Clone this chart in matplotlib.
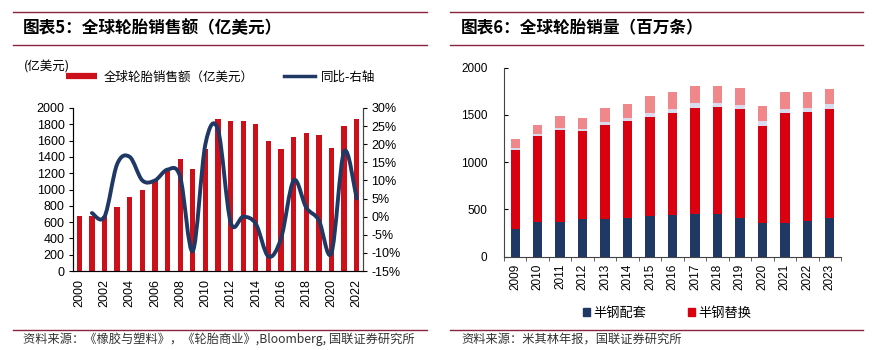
import matplotlib
matplotlib.use('Agg')
import matplotlib.pyplot as plt
from matplotlib.lines import Line2D
from matplotlib.path import Path
from matplotlib.patches import PathPatch, Patch
import numpy as np

plt.rcParams['font.family'] = ['Liberation Sans', 'Noto Sans CJK SC']
CJK = ['Noto Sans CJK SC', 'DejaVu Sans']

# ---- 图表5 数据 ----
years5 = [str(y) for y in range(2000, 2023)]
sales = [670, 680, 680, 780, 910, 1000, 1100, 1240, 1380, 1250, 1500, 1870,
         1840, 1840, 1800, 1600, 1500, 1650, 1690, 1670, 1510, 1780, 1870]
# 同比 (%), 从2001年开始
yoy_years = [str(y) for y in range(2001, 2023)]
yoy = [1, 0, 14.5, 16.5, 10, 10, 13, 11, -9.5, 20, 24, -1.5, 0, -2, -11,
       -6, 10, 2.5, -1, -10, 18, 5]

# ---- 图表6 数据 ----
years6 = [str(y) for y in range(2009, 2024)]
semi_oe = [289, 363, 370, 401, 401, 408, 429, 436, 454, 454, 412, 352, 352, 377, 405]
semi_rep = [838, 911, 968, 926, 989, 1025, 1053, 1085, 1119, 1130, 1151, 1028, 1169, 1151, 1158]
full_oe = [28, 21, 24, 28, 32, 35, 39, 38, 53, 46, 42, 53, 45, 45, 49]
full_rep = [88, 95, 123, 113, 155, 148, 183, 187, 183, 179, 176, 158, 173, 166, 162]

RED = '#CC1019'
NAVY = '#1F3864'
RULE = '#8B2240'

W, H = 874, 350
fig = plt.figure(figsize=(W / 100, H / 100), dpi=100)


def fx(px):
    return px / W


def fy(py):
    return 1 - py / H


def hline(x0, x1, y):
    fig.add_artist(Line2D([fx(x0), fx(x1)], [fy(y), fy(y)], color=RULE, lw=1.0,
                          transform=fig.transFigure))


# 标题、分隔线、资料来源
for x0, x1 in [(13, 427), (450, 863)]:
    hline(x0, x1, 12)
    hline(x0, x1, 45)
    hline(x0, x1, 330)
fig.text(fx(23), fy(28.5), '图表5：全球轮胎销售额（亿美元）', family=CJK, fontsize=12,
         fontweight='heavy', va='center', ha='left')
fig.text(fx(461), fy(28.5), '图表6：全球轮胎销量（百万条）', family=CJK, fontsize=12,
         fontweight='heavy', va='center', ha='left')
fig.text(fx(23), fy(339), '资料来源：《橡胶与塑料》，《轮胎商业》,Bloomberg, 国联证券研究所',
         family=CJK, fontsize=8.8, color='#333333', va='center', ha='left')
fig.text(fx(461), fy(339), '资料来源：米其林年报，国联证券研究所',
         family=CJK, fontsize=8.8, color='#333333', va='center', ha='left')

# ---------------- 左图 ----------------
ax = fig.add_axes([fx(73), fy(271), fx(363) - fx(73), (271 - 108) / H])
x5 = np.arange(len(years5))
ax.bar(x5, sales, width=0.42, color=RED, zorder=2)
ax.set_xlim(-0.5, len(years5) - 0.5)
ax.set_ylim(0, 2000)
ax.set_yticks(range(0, 2001, 200))
ax.set_xticks(x5[::2])
ax.set_xticklabels(years5[::2], rotation=90)
ax.tick_params(axis='x', length=0, pad=6, labelsize=9)
ax.tick_params(axis='y', direction='out', length=3, labelsize=9, pad=3)
ax.spines['top'].set_visible(False)
for s in ['left', 'bottom', 'right']:
    ax.spines[s].set_color('#444444')

ax2 = ax.twinx()
ax2.set_ylim(-15, 30)
ax2.set_yticks(range(-15, 31, 5))
ax2.set_yticklabels([f'{v}%' for v in range(-15, 31, 5)])
ax2.tick_params(axis='y', direction='out', length=3, labelsize=9, pad=3)
ax2.spines['top'].set_visible(False)
ax2.spines['right'].set_color('#444444')

# 平滑曲线 (Catmull-Rom -> 贝塞尔)
px = np.array([years5.index(y) for y in yoy_years], dtype=float)
py = np.array(yoy, dtype=float)
pts = np.column_stack([px, py])
ext = np.vstack([pts[0], pts, pts[-1]])
verts = [tuple(pts[0])]
codes = [Path.MOVETO]
for i in range(1, len(ext) - 2):
    p0, p1, p2, p3 = ext[i - 1], ext[i], ext[i + 1], ext[i + 2]
    c1 = p1 + (p2 - p0) / 6
    c2 = p2 - (p3 - p1) / 6
    verts += [tuple(c1), tuple(c2), tuple(p2)]
    codes += [Path.CURVE4] * 3
ax2.add_patch(PathPatch(Path(verts, codes), fill=False, edgecolor=NAVY, lw=2.8,
                        capstyle='round', joinstyle='round', zorder=3))

fig.text(fx(24), fy(67), '(亿美元)', family=CJK, fontsize=9, va='center', ha='left')
h1 = Line2D([], [], color=RED, lw=4.5, solid_capstyle='butt')
h2 = Line2D([], [], color=NAVY, lw=2.5)
fig.legend([h1, h2], ['全球轮胎销售额（亿美元）', '同比-右轴'], loc='center left',
           bbox_to_anchor=(fx(66), fy(77)), ncol=2, frameon=False, borderpad=0,
           borderaxespad=0, handlelength=2.5, handletextpad=0.5, columnspacing=2.4,
           prop={'family': CJK, 'size': 9})

# ---------------- 右图 ----------------
bx = fig.add_axes([fx(504), fy(256.7), fx(841) - fx(504), (256.7 - 67.7) / H])
x6 = np.arange(len(years6))
bw = 0.42
b1 = np.array(semi_oe)
b2 = b1 + np.array(semi_rep)
b3 = b2 + np.array(full_oe)
bx.bar(x6, semi_oe, width=bw, color=NAVY, zorder=2)
bx.bar(x6, semi_rep, bottom=b1, width=bw, color='#D9000F', zorder=2)
bx.bar(x6, full_oe, bottom=b2, width=bw, color='#D8DCEE', zorder=2)
bx.bar(x6, full_rep, bottom=b3, width=bw, color='#F0878A', zorder=2)
bx.set_xlim(-0.5, len(years6) - 0.5)
bx.set_ylim(0, 2000)
bx.set_yticks(range(0, 2001, 500))
bx.set_xticks(x6)
bx.set_xticklabels(years6, rotation=90)
bx.set_xticks(np.arange(-0.5, len(years6), 1.0), minor=True)
bx.tick_params(axis='x', which='major', length=0, pad=5, labelsize=8.5)
bx.tick_params(axis='x', which='minor', direction='out', length=3, color='#444444')
bx.tick_params(axis='y', direction='in', length=3, labelsize=8.5, pad=12)
for s in ['top', 'right']:
    bx.spines[s].set_visible(False)
for s in ['left', 'bottom']:
    bx.spines[s].set_color('#444444')

fig.legend([Patch(color=NAVY), Patch(color='#D9000F')], ['半钢配套', '半钢替换'],
           loc='center', bbox_to_anchor=(fx(667), fy(313)), ncol=2, frameon=False,
           borderpad=0, borderaxespad=0, handlelength=0.55, handleheight=0.55,
           handletextpad=0.2, columnspacing=3.2, prop={'family': CJK, 'size': 9.5})

fig.savefig('out.png', dpi=100)
